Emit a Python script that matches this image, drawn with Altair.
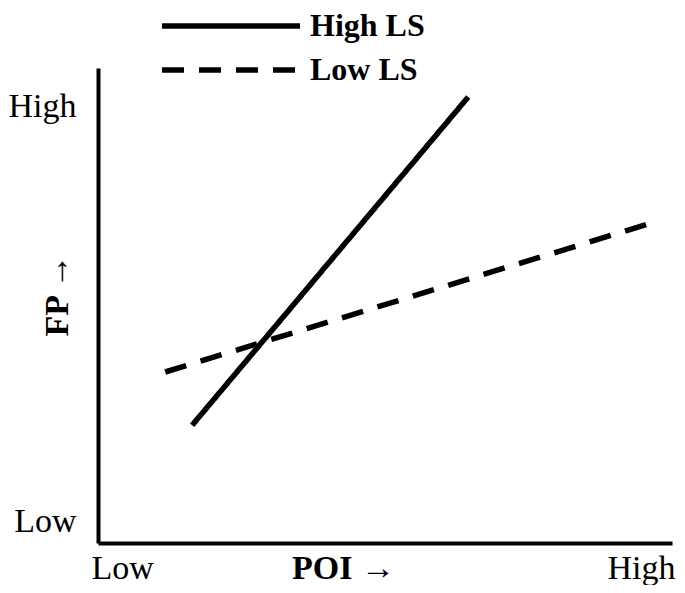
import altair as alt
import pandas as pd

# Series endpoints (in axis units 0..10)
series_names = ["High LS", "Low LS"]
high_ls_poi = [1.64, 6.45]
high_ls_fp = [2.48, 9.39]
low_ls_poi = [1.17, 9.65]
low_ls_fp = [3.60, 6.74]

# Axis tick positions and labels
x_tick_values = [0.42, 9.46]
y_tick_values = [0.46, 9.18]
tick_labels = ["Low", "High"]

rows = []
for p, f in zip(high_ls_poi, high_ls_fp):
    rows.append({"series": "High LS", "POI": p, "FP": f})
for p, f in zip(low_ls_poi, low_ls_fp):
    rows.append({"series": "Low LS", "POI": p, "FP": f})
df = pd.DataFrame(rows)

FONT = "Liberation Serif"

label_expr = "datum.value < 5 ? '%s' : '%s'" % (tick_labels[0], tick_labels[1])

chart = (
    alt.Chart(df)
    .mark_line(strokeWidth=5.5, color="black", clip=False, strokeCap="butt")
    .encode(
        x=alt.X(
            "POI:Q",
            scale=alt.Scale(domain=[0, 10], nice=False, zero=False),
            axis=alt.Axis(
                values=x_tick_values,
                labelExpr=label_expr,
                ticks=False,
                tickSize=0,
                grid=False,
                domainColor="black",
                domainWidth=4,
                labelFont=FONT,
                labelFontSize=34,
                labelColor="black",
                labelPadding=35,
                labelAlign="center",
                labelBaseline="alphabetic",
                labelFlush=False,
                labelOverlap=False,
                title="POI →",
                titleFont=FONT,
                titleFontSize=34,
                titleFontWeight="bold",
                titleColor="black",
                titleX=245,
                titleY=35,
                titleAlign="center",
                titleBaseline="alphabetic",
            ),
        ),
        y=alt.Y(
            "FP:Q",
            scale=alt.Scale(domain=[0, 10], nice=False, zero=False),
            axis=alt.Axis(
                values=y_tick_values,
                labelExpr=label_expr,
                ticks=False,
                tickSize=0,
                grid=False,
                domainColor="black",
                domainWidth=4,
                labelFont=FONT,
                labelFontSize=34,
                labelColor="black",
                labelPadding=22,
                labelBaseline="middle",
                labelFlush=False,
                labelOverlap=False,
                title="FP →",
                titleFont=FONT,
                titleFontSize=34,
                titleFontWeight="bold",
                titleColor="black",
                titleAngle=270,
                titleX=-41,
                titleY=227,
                titleAlign="center",
                titleBaseline="middle",
            ),
        ),
        strokeDash=alt.StrokeDash(
            "series:N",
            scale=alt.Scale(domain=series_names, range=[[1, 0], [22, 15]]),
            legend=alt.Legend(
                orient="none",
                legendX=113,
                legendY=-62,
                title=None,
                padding=0,
                symbolType="M-4,0H4",
                symbolSize=1190,
                symbolStrokeWidth=5.5,
                symbolStrokeColor="black",
                symbolFillColor="transparent",
                symbolOpacity=1,
                labelFont=FONT,
                labelFontSize=32,
                labelFontWeight="bold",
                labelColor="black",
                labelOffset=59,
                labelLimit=400,
                rowPadding=8,
                direction="vertical",
            ),
        ),
        detail="series:N",
    )
    .properties(
        width=574,
        height=475,
        padding={"left": 90, "top": 60, "right": 5, "bottom": 42},
        autosize="none",
        background="white",
    )
    .configure_view(stroke=None)
)

chart.save("out.html", embed_options={"renderer": "svg", "actions": False})
